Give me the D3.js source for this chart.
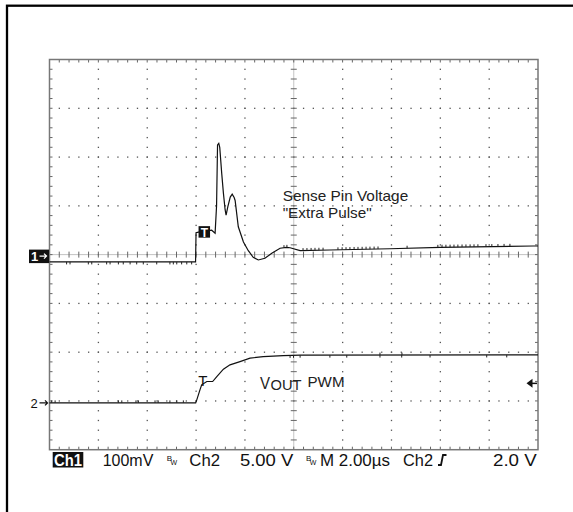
<!DOCTYPE html>
<html>
<head>
<meta charset="utf-8">
<script src="https://cdn.jsdelivr.net/npm/d3@7"></script>
<style>
  body { margin: 0; background: #fff; }
  svg { display: block; }
</style>
</head>
<body>
<div id="chart"></div>
<script>
// scope settings
const timePerDiv = 2;      // µs
const ch1PerDiv = 100;     // mV
const ch2PerDiv = 5;       // V
const ch1Pos = 0;          // divisions from centre
const ch2Pos = -3.04;
const trigLevel = 2.0;     // V on ch2

// Ch1: sense pin voltage (time µs, mV)
const ch1Time = [0, 5.98, 6.00, 6.10, 6.64, 6.78, 6.84, 6.88, 6.93, 6.97, 7.05, 7.12, 7.19, 7.23,
  7.30, 7.40, 7.48, 7.56, 7.60, 7.73, 7.94, 8.14, 8.34, 8.55, 8.82, 9.10, 9.44, 9.70, 9.85,
  10.26, 11.48, 12.92, 13.94, 15.99, 19.80, 20];
const ch1Mv = [-15, -15, 45, 46, 50, 44, 100, 225, 228, 220, 167, 126, 92, 81,
  98, 118, 124, 117, 111, 57, 26, 8, -5.5, -11, -7.6, 2.7, 13, 15, 14,
  8, 9.4, 11, 12, 15, 17.6, 17.6];
// noise glitches on ch1 (µs)
const ch1GlitchDown = [0.70, 0.84, 1.59, 1.73, 2.34, 2.48, 2.82, 3.02, 3.30, 3.57, 3.84, 4.39,
  4.93, 5.07, 5.21, 5.41, 5.62, 5.82];
const ch1GlitchUp = [9.60, 9.72, 10.38, 10.54, 10.71, 10.87, 11.03, 11.20, 11.81, 11.98, 12.14,
  12.30, 12.47, 12.63, 12.80, 12.96, 13.12, 13.29, 13.45, 14.64, 15.90, 16.07, 16.23, 16.40,
  16.56, 16.72, 16.89, 17.05, 17.22, 17.38, 17.54, 17.87, 18.11, 18.36, 18.61, 18.85];

// Ch2: VOUT PWM (time µs, V)
const ch2Time = [0, 5.985, 6.03, 6.16, 6.23, 6.44, 6.68, 6.85, 7.12, 7.39, 7.80, 8.21, 8.75, 9.57, 10.26, 20];
const ch2Volt = [0, 0, 0.31, 1.33, 1.85, 2.19, 2.19, 2.70, 3.45, 3.90, 4.23, 4.58, 4.74, 4.85, 4.89, 4.92];
const ch2GlitchUp = [0.09, 0.23, 2.82, 2.96, 3.54, 3.64, 4.32, 4.45, 4.93, 5.21, 5.48, 13.53, 14.43];
const ch2GlitchDown = [9.85, 9.99, 10.26, 11.48, 12.17, 13.53, 14.42, 15.58, 17.90, 18.72];

const width = 573, height = 512;
const plot = { x0: 49.5, x1: 538, y0: 59.5, y1: 449.7 };
const font = "'Liberation Sans', Arial, sans-serif";

const svg = d3.select('#chart').append('svg')
  .attr('width', width).attr('height', height);

// outer frame (only left/top fall inside the picture)
svg.append('rect')
  .attr('x', 7).attr('y', 5.7).attr('width', 700).attr('height', 700)
  .attr('fill', 'none').attr('stroke', '#000').attr('stroke-width', 2.3);

const xDiv = d3.scaleLinear().domain([0, 10]).range([plot.x0, plot.x1]);
const yDiv = d3.scaleLinear().domain([-4, 4]).range([plot.y1, plot.y0]);
const x = d3.scaleLinear().domain([0, 10 * timePerDiv]).range([plot.x0, plot.x1]);
const y1 = v => yDiv(v / ch1PerDiv + ch1Pos);
const y2 = v => yDiv(v / ch2PerDiv + ch2Pos);

// graticule
const grid = svg.append('g');
const dotCol = '#555';
const minorX = d3.range(0.2, 9.9, 0.2);
const minorY = d3.range(-3.8, 3.9, 0.2);

[1, 2, 3, 4, 6, 7, 8, 9].forEach(k => {
  grid.selectAll(null).data(minorY).join('rect')
    .attr('x', xDiv(k) - 0.6).attr('y', d => yDiv(d) - 0.6)
    .attr('width', 1.3).attr('height', 1.3).attr('fill', dotCol);
});
[-3, -2, -1, 1, 2, 3].forEach(k => {
  grid.selectAll(null).data(minorX).join('rect')
    .attr('x', d => xDiv(d) - 0.6).attr('y', yDiv(k) - 0.6)
    .attr('width', 1.3).attr('height', 1.3).attr('fill', dotCol);
});

// centre axes
grid.append('line')
  .attr('x1', plot.x0).attr('x2', plot.x1).attr('y1', yDiv(0)).attr('y2', yDiv(0))
  .attr('stroke', '#888').attr('stroke-width', 1).attr('stroke-dasharray', '1,1');
grid.append('line')
  .attr('x1', xDiv(5)).attr('x2', xDiv(5)).attr('y1', plot.y0).attr('y2', plot.y1)
  .attr('stroke', '#888').attr('stroke-width', 1).attr('stroke-dasharray', '1,1');
grid.selectAll(null).data(minorX).join('line')
  .attr('x1', d => xDiv(d)).attr('x2', d => xDiv(d))
  .attr('y1', yDiv(0) - 3).attr('y2', yDiv(0) + 3)
  .attr('stroke', '#666').attr('stroke-width', 1);
grid.selectAll(null).data(minorY).join('line')
  .attr('y1', d => yDiv(d)).attr('y2', d => yDiv(d))
  .attr('x1', xDiv(5) - 3).attr('x2', xDiv(5) + 3)
  .attr('stroke', '#666').attr('stroke-width', 1);

// border ticks
grid.selectAll(null).data(minorX).join('path')
  .attr('d', d => `M${xDiv(d)},${plot.y0}v3M${xDiv(d)},${plot.y1}v-3`)
  .attr('stroke', '#666').attr('stroke-width', 1);
grid.selectAll(null).data(minorY).join('path')
  .attr('d', d => `M${plot.x0},${yDiv(d)}h3M${plot.x1},${yDiv(d)}h-3`)
  .attr('stroke', '#666').attr('stroke-width', 1);

grid.append('rect')
  .attr('x', plot.x0).attr('y', plot.y0)
  .attr('width', plot.x1 - plot.x0).attr('height', plot.y1 - plot.y0)
  .attr('fill', 'none').attr('stroke', '#777').attr('stroke-width', 1.5);

// traces
const line1 = d3.line().x(i => x(ch1Time[i])).y(i => y1(ch1Mv[i]));
const line2 = d3.line().x(i => x(ch2Time[i])).y(i => y2(ch2Volt[i]));
svg.append('path').attr('d', line1(d3.range(ch1Time.length)))
  .attr('fill', 'none').attr('stroke', '#111').attr('stroke-width', 1.2);
svg.append('path').attr('d', line2(d3.range(ch2Time.length)))
  .attr('fill', 'none').attr('stroke', '#111').attr('stroke-width', 1.2);

// glitches drawn on the trace
const interp = (ts, vs, t) => {
  const i = Math.max(1, Math.min(ts.length - 1, d3.bisectLeft(ts, t)));
  const f = (t - ts[i - 1]) / (ts[i] - ts[i - 1]);
  return vs[i - 1] + f * (vs[i] - vs[i - 1]);
};
const glitch = (times, ts, vs, yf, dir) => {
  svg.append('g').selectAll('line').data(times).join('line')
    .attr('x1', d => x(d)).attr('x2', d => x(d))
    .attr('y1', d => yf(interp(ts, vs, d)))
    .attr('y2', d => yf(interp(ts, vs, d)) + dir * 2.5)
    .attr('stroke', '#222').attr('stroke-width', 1);
};
glitch(ch1GlitchDown, ch1Time, ch1Mv, y1, 1);
glitch(ch1GlitchUp, ch1Time, ch1Mv, y1, -1);
glitch(ch2GlitchUp, ch2Time, ch2Volt, y2, -1);
glitch(ch2GlitchDown, ch2Time, ch2Volt, y2, 1);

// trigger 'T' markers
const tx = x(ch1Time[2]);
svg.append('rect').attr('x', tx + 2.5).attr('y', y1(ch1Mv[2]) - 6.5)
  .attr('width', 11.5).attr('height', 11.5).attr('fill', '#111');
svg.append('text').attr('x', tx + 8.3).attr('y', y1(ch1Mv[2]) + 4)
  .attr('text-anchor', 'middle').attr('font-family', font).attr('font-weight', 'bold')
  .attr('font-size', 12).attr('fill', '#fff').text('T');
svg.append('text').attr('x', x(ch2Time[3]) + 3).attr('y', y2(ch2Volt[4]) + 1)
  .attr('text-anchor', 'middle').attr('font-family', font)
  .attr('font-size', 15).attr('fill', '#111').text('T');

// channel ground markers
const g1 = yDiv(ch1Pos);
svg.append('rect').attr('x', 29).attr('y', g1 - 5).attr('width', 20).attr('height', 13.5).attr('fill', '#111');
svg.append('text').attr('x', 31).attr('y', g1 + 6).attr('font-family', font).attr('font-weight', 'bold')
  .attr('font-size', 13).attr('fill', '#fff').text('1');
svg.append('path').attr('d', `M39.5,${g1 + 1.5}h7M44,${g1 - 1}l2.5,2.5l-2.5,2.5`)
  .attr('stroke', '#fff').attr('stroke-width', 1.3).attr('fill', 'none');

const g2 = yDiv(ch2Pos);
svg.append('text').attr('x', 30.5).attr('y', g2 + 5).attr('font-family', font)
  .attr('font-size', 13).attr('fill', '#111').text('2');
svg.append('path').attr('d', `M39.5,${g2}h8M45,${g2 - 2.5}l2.5,2.5l-2.5,2.5`)
  .attr('stroke', '#111').attr('stroke-width', 1.3).attr('fill', 'none');

// trigger level arrow
const ty = y2(trigLevel);
svg.append('path').attr('d', `M526.5,${ty}l6,-4.5v9z`).attr('fill', '#111');
svg.append('line').attr('x1', 531).attr('x2', 537).attr('y1', ty).attr('y2', ty)
  .attr('stroke', '#111').attr('stroke-width', 1.5);

// annotations
const ann = svg.append('g').attr('font-family', font).attr('fill', '#222');
ann.append('text').attr('x', 282.7).attr('y', 200.7).attr('font-size', 14.5)
  .attr('textLength', 125.5).attr('lengthAdjust', 'spacingAndGlyphs').text('Sense Pin Voltage');
ann.append('text').attr('x', 282.7).attr('y', 217.7).attr('font-size', 14.5)
  .attr('textLength', 89).attr('lengthAdjust', 'spacingAndGlyphs').text('"Extra Pulse"');
ann.append('text').attr('x', 260).attr('y', 388.5).attr('font-size', 16)
  .attr('textLength', 10).attr('lengthAdjust', 'spacingAndGlyphs').text('V');
ann.append('text').attr('x', 270.5).attr('y', 389.5).attr('font-size', 14.5)
  .attr('textLength', 31).attr('lengthAdjust', 'spacingAndGlyphs').text('OUT');
ann.append('text').attr('x', 307.5).attr('y', 387).attr('font-size', 15.5)
  .attr('textLength', 37).attr('lengthAdjust', 'spacingAndGlyphs').text('PWM');

// readout line
const base = 465.5;
const ro = svg.append('g').attr('font-family', font).attr('font-size', 16).attr('fill', '#111');
ro.append('rect').attr('x', 52.7).attr('y', 452).attr('width', 30.6).attr('height', 15.5).attr('fill', '#111');
ro.append('text').attr('x', 54).attr('y', base).attr('fill', '#fff').attr('font-weight', 'bold')
  .attr('textLength', 28).attr('lengthAdjust', 'spacingAndGlyphs').text('Ch1');
const readouts = [
  [`${ch1PerDiv}mV`, 102.7, 50.6],
  ['Ch2', 189.3, 30.7],
  [`${ch2PerDiv.toFixed(2)} V`, 240, 53.3],
  [`M ${timePerDiv.toFixed(2)}µs`, 320, 70],
  ['Ch2', 403, 30],
  [`${trigLevel.toFixed(1)} V`, 493, 43.7]
];
ro.selectAll(null).data(readouts).join('text')
  .attr('x', d => d[1]).attr('y', base)
  .attr('textLength', d => d[2]).attr('lengthAdjust', 'spacingAndGlyphs')
  .text(d => d[0]);
[166.7, 306].forEach(bx => {
  ro.append('text').attr('x', bx).attr('y', base - 5).attr('font-size', 8).text('B');
  ro.append('text').attr('x', bx + 3.8).attr('y', base - 1).attr('font-size', 7).text('W');
});
ro.append('path').attr('d', `M438,${base - 0.5}h3l2,-10h3.5`)
  .attr('stroke', '#111').attr('stroke-width', 1.8).attr('fill', 'none');
</script>
</body>
</html>
